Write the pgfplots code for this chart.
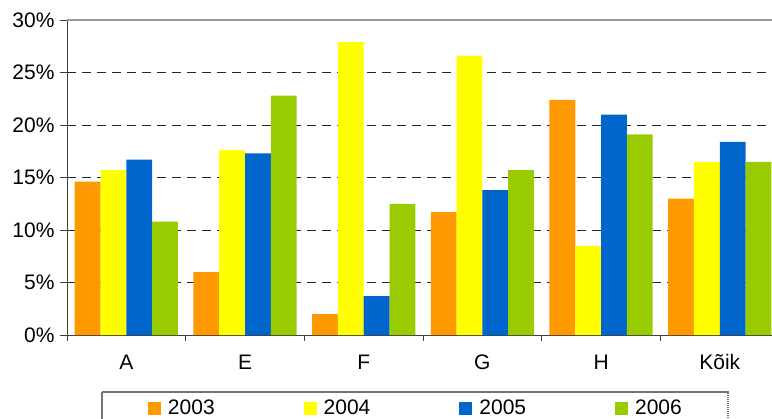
\documentclass[border=0pt]{standalone}
\usepackage{fontspec}
\setmainfont{Liberation Sans}
\usepackage{pgfplots}
\pgfplotsset{compat=1.18}
\definecolor{c2003}{HTML}{FF9900}
\definecolor{c2004}{HTML}{FFFF00}
\definecolor{c2005}{HTML}{0066CC}
\definecolor{c2006}{HTML}{99CC00}
\newcommand{\chartfont}{\fontsize{21bp}{25bp}\selectfont}
\begin{document}
\begin{tikzpicture}
\begin{axis}[
    at={(0,0)}, anchor=south west,
    scale only axis, width=705bp, height=315bp,
    ybar=0pt, bar width=25.8bp,
    xmin=-0.5, xmax=5.44, ymin=0, ymax=30,
    axis x line*=bottom, axis y line*=left,
    axis line style={-, draw=black!75, line width=1bp},
    xtick={0,...,5}, xticklabels={A,E,F,G,H,Kõik},
    minor xtick={-0.5,0.5,1.5,2.5,3.5,4.5},
    ytick={0,5,...,25},
    yticklabel={\pgfmathprintnumber{\tick}\%},
    extra y ticks={30},
    extra y tick style={grid style={solid, draw=black!40, line width=1.5bp}},
    /pgf/number format/assume math mode=true,
    tick align=outside,
    major tick length=7bp, minor tick length=6bp,
    major x tick style={draw=none},
    minor x tick style={draw=black!75, line width=1bp},
    ytick style={draw=black!75, line width=1bp},
    ymajorgrids,
    grid style={draw=black!85, line width=1bp, dash pattern=on 9bp off 6bp},
    tick label style={font=\chartfont},
    x tick label style={text height=15bp, text depth=0bp, yshift=-9bp},
    y tick label style={xshift=-2bp},
    legend columns=4,
    legend cell align=left,
    legend image code/.code={\fill[#1,draw=none] (0bp,-6.5bp) rectangle (13bp,6.5bp);},
    legend style={at={(0.0482,-0.1778)}, anchor=north west,
        draw=black!55, line width=2bp, dash pattern=on 1.5bp off 0.5bp,
        font=\chartfont, inner xsep=46bp, inner ysep=8bp,
        nodes={inner sep=0pt, solid},
        /tikz/every odd column/.append style={column sep=7bp},
        /tikz/every even column/.append style={column sep=89bp}},
]
\addplot[fill=c2003, draw=none] coordinates {(0,14.6) (1,6.0) (2,2.0) (3,11.7) (4,22.4) (5,13.0)};
\addplot[fill=c2004, draw=none] coordinates {(0,15.7) (1,17.6) (2,27.9) (3,26.6) (4,8.5) (5,16.5)};
\addplot[fill=c2005, draw=none] coordinates {(0,16.7) (1,17.3) (2,3.7) (3,13.8) (4,21.0) (5,18.4)};
\addplot[fill=c2006, draw=none] coordinates {(0,10.8) (1,22.8) (2,12.5) (3,15.7) (4,19.1) (5,16.5)};
\legend{2003,2004,2005,2006}
\end{axis}
\pgfresetboundingbox
\useasboundingbox (-67bp,-84bp) rectangle (705bp,335bp);
\end{tikzpicture}
\end{document}
